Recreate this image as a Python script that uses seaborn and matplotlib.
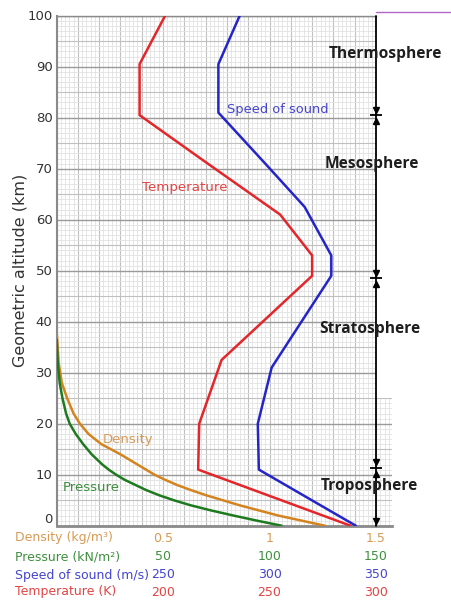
import matplotlib
matplotlib.use('Agg')
import matplotlib.pyplot as plt
import matplotlib.transforms as mtransforms
from matplotlib.patches import Rectangle
from matplotlib.lines import Line2D
import seaborn as sns
import numpy as np
import pandas as pd

sns.set_style("white")
plt.rcParams['font.family'] = ['DejaVu Sans']

# --- values ---
# temperature (K) against altitude (km)
temp_alt = [0, 11, 20, 32.5, 49, 53, 61, 71, 80.5, 90.5, 100]
temp_k = [288, 216.5, 217, 227.5, 270, 270, 255, 221, 189, 189, 201]

# speed of sound (m/s)
sound_alt = [0, 11, 20, 31, 49, 53, 62.5, 71, 81, 90.5, 100]
sound_ms = [340.5, 295, 294.5, 301, 329, 329, 316.5, 298, 276, 276, 286]

# density (kg/m3)
dens_alt = [0, 1, 2, 3, 4, 5, 6, 7, 8, 9, 10, 11, 12, 13, 14, 16, 18, 20, 22, 25, 28, 32, 37.5]
dens_kg = [1.26, 1.15, 1.04, 0.95, 0.86, 0.78, 0.70, 0.63, 0.565, 0.51, 0.46, 0.42, 0.38,
           0.34, 0.30, 0.21, 0.15, 0.11, 0.08, 0.05, 0.025, 0.01, 0.002]

# pressure (kN/m2)
pres_alt = [0, 1, 2, 3, 4, 5, 6, 7, 8, 9, 10, 11, 12, 13, 14, 16, 18, 20, 22, 25, 28, 32, 36.5]
pres_kn = [105.7, 94, 83, 72.5, 63, 55, 48, 42, 37, 32, 28, 24.5, 21.5, 19, 16.5, 12.5, 9,
           6.2, 4.5, 2.8, 1.5, 0.6, 0.1]

# layer boundaries (km) and layer names
boundaries = [11.3, 48.5, 80.5]
layer_names = ['Troposphere', 'Stratosphere', 'Mesosphere', 'Thermosphere']
layer_alt = [7.8, 38.5, 70.9, 92.5]
layer_x = [1.467, 1.472, 1.481, 1.545]

# altitude ticks
alt_ticks = list(range(0, 101, 10))

# bottom scale rows
scale_names = ['Density (kg/m³)', 'Pressure (kN/m²)', 'Speed of sound (m/s)', 'Temperature (K)']
scale_ticks = [['0.5', '1', '1.5'], ['50', '100', '150'], ['250', '300', '350'], ['200', '250', '300']]
tick_pos = [0.5, 1.0, 1.5]

c_temp, c_sound, c_dens, c_pres = '#E3262A', '#2424C8', '#D4841F', '#1E7A1E'
t_temp, t_sound, t_dens, t_pres = '#E34444', '#4444D0', '#D99A55', '#3F8F3F'

# all series on one shared axis (density units)
df = pd.concat([
    pd.DataFrame({'alt': temp_alt, 'x': (np.array(temp_k) - 150) / 100, 'series': 'temp'}),
    pd.DataFrame({'alt': sound_alt, 'x': (np.array(sound_ms) - 200) / 100, 'series': 'sound'}),
    pd.DataFrame({'alt': dens_alt, 'x': np.array(dens_kg), 'series': 'dens'}),
    pd.DataFrame({'alt': pres_alt, 'x': np.array(pres_kn) / 100, 'series': 'pres'}),
])

fig = plt.figure(figsize=(4.51, 6.03), dpi=100)
ax = fig.add_axes([56.5 / 451, 77.3 / 603, 335.5 / 451, 510 / 603])

palette = {'temp': c_temp, 'sound': c_sound, 'dens': c_dens, 'pres': c_pres}
sns.lineplot(data=df, x='x', y='alt', hue='series', palette=palette, sort=False,
             estimator=None, linewidth=1.8, legend=False, ax=ax, zorder=4)

ax.set_xlim(0, 1.575)
ax.set_ylim(0, 100)

# graph paper grid
ax.set_xticks(np.arange(0, 1.58, 0.1))
ax.set_xticks(np.arange(0, 1.58, 0.02), minor=True)
ax.set_yticks(alt_ticks)
ax.set_yticks(np.arange(0, 101, 1), minor=True)
ax.set_axisbelow(True)
ax.grid(which='minor', color='#e2e2e2', linewidth=0.6)
ax.grid(which='major', axis='x', color='#c0c0c0', linewidth=0.8)
ax.grid(which='major', axis='y', color='#9a9a9a', linewidth=1.0)
for y in range(5, 100, 10):
    ax.axhline(y, color='#c0c0c0', linewidth=0.8, zorder=0.6)
ax.tick_params(length=0, labelbottom=False, labelleft=False)
ax.set_xlabel('')
ax.set_ylabel('Geometric altitude (km)', fontsize=11.5, color='#333333')
ax.yaxis.set_label_coords(-0.085, 0.5)

# altitude labels (the 0 sits a little higher, as in the reference)
ytrans = ax.get_yaxis_transform()
for t in alt_ticks:
    ax.text(-0.012, t + (1.2 if t == 0 else -0.2), str(t), transform=ytrans, fontsize=9.5,
            color='#333333', ha='right', va='center')

# blank area right of the layer line
ax.add_patch(Rectangle((1.5, 25), 0.1, 76, facecolor='white', edgecolor='none', zorder=1,
                       clip_on=False))

for side in ['left', 'bottom', 'top']:
    ax.spines[side].set_color('#8a8a8a')
ax.spines['left'].set_linewidth(1.5)
ax.spines['bottom'].set_linewidth(2)
ax.spines['top'].set_linewidth(1)
ax.spines['top'].set_bounds(0, 1.5)
ax.spines['right'].set_visible(False)

# layer line with arrows
ax.plot([1.5, 1.5], [0, 100], color='black', linewidth=1.3, zorder=5, clip_on=False)
ax.plot([1.5], [0.9], marker='v', color='black', markersize=5, zorder=5)
for b in boundaries:
    ax.plot([1.5], [b + 1.1], marker='v', color='black', markersize=5, zorder=5)
    ax.plot([1.5], [b - 1.1], marker='^', color='black', markersize=5, zorder=5)
    ax.plot([1.5], [b], marker='_', color='black', markersize=9, markeredgewidth=1.3, zorder=5)

for name, y, x in zip(layer_names, layer_alt, layer_x):
    ax.text(x, y, name, fontsize=11.2, fontweight='bold', family='Open Sans', color='#1e1e1e',
            ha='center', va='center', zorder=6)

# curve labels
ax.text(0.80, 81.6, 'Speed of sound', color=t_sound, fontsize=9.4, ha='left', va='center')
ax.text(0.60, 66.4, 'Temperature', color=t_temp, fontsize=9.6, ha='center', va='center')
ax.text(0.334, 17.0, 'Density', color=t_dens, fontsize=9.5, ha='center', va='center')
ax.text(0.161, 7.4, 'Pressure', color=t_pres, fontsize=9.5, ha='center', va='center')

# stacked scales under the plot
trans = mtransforms.blended_transform_factory(ax.transData, fig.transFigure)
row_y = [538, 557, 575, 592]
row_colors = [t_dens, t_pres, t_sound, t_temp]
for name, ticks, py, col in zip(scale_names, scale_ticks, row_y, row_colors):
    fig.text(15 / 451, 1 - py / 603, name, color=col, fontsize=9, ha='left', va='center')
    for xv, lab in zip(tick_pos, ticks):
        ax.text(xv, 1 - py / 603, lab, transform=trans, color=col, fontsize=9,
                ha='center', va='center')

# thin purple edge at the top right
fig.add_artist(Line2D([376 / 451, 1], [1 - 12 / 603, 1 - 12 / 603], color='#B266C8',
                      linewidth=1, transform=fig.transFigure))

plt.savefig('out.png', dpi=100)
plt.close()
